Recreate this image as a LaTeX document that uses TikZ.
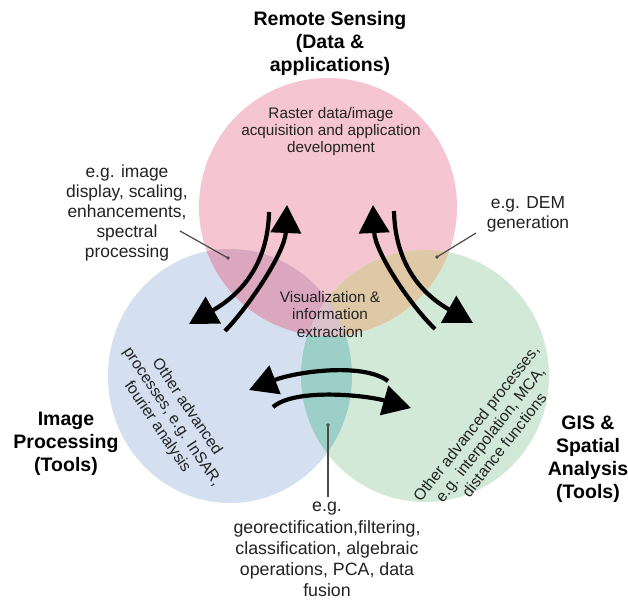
\documentclass[tikz,border=0pt]{standalone}
\usepackage{fontspec}
\setmainfont{Liberation Sans}
\usetikzlibrary{arrows.meta}

% fills of the three circles and their overlaps
\definecolor{rsPink}{HTML}{F5C6D1}
\definecolor{ipBlue}{HTML}{D4E0EF}
\definecolor{gisGreen}{HTML}{D2E9D7}
\definecolor{pinkBlue}{HTML}{DAA7BE}
\definecolor{pinkGreen}{HTML}{DEC8A5}
\definecolor{blueGreen}{HTML}{9BCFC8}
\definecolor{allThree}{HTML}{DBC1CA}
\definecolor{inkGray}{HTML}{222222}
\definecolor{leaderGray}{HTML}{4A4A4A}

\begin{document}
\begin{tikzpicture}[x=1pt,y=-1pt,
  bigarrow/.style={line width=4.2pt,-{Triangle[length=28pt,width=30pt]}},
  leader/.style={line width=1.2pt,draw=leaderGray},
  leaderdot/.style={circle,fill=leaderGray,inner sep=0pt,minimum size=3.6pt},
  heading/.style={font=\fontsize{19.5}{23}\selectfont\bfseries,align=center,text=black,inner sep=0pt},
  inner/.style={font=\fontsize{15.3}{17.3}\selectfont,align=center,text=inkGray,inner sep=0pt},
  example/.style={font=\fontsize{17.4}{19.8}\selectfont,align=center,text=inkGray,inner sep=0pt},
  slanted/.style={font=\fontsize{15.8}{17.8}\selectfont,align=center,text=inkGray,inner sep=0pt}]

\useasboundingbox (0,0) rectangle (628,601);
\fill[white] (0,0) rectangle (628,601);

% the three circles
\fill[rsPink] (328,207) circle[radius=129pt];
\fill[ipBlue] (230,376) ellipse[x radius=122pt,y radius=127pt];
\fill[gisGreen] (425,376) ellipse[x radius=124pt,y radius=126pt];

% image processing / GIS overlap
\begin{scope}
  \clip (230,376) ellipse[x radius=122pt,y radius=127pt];
  \fill[blueGreen] (425,376) ellipse[x radius=124pt,y radius=126pt];
\end{scope}

% overlaps with remote sensing, and the common centre
\begin{scope}
  \clip (328,207) circle[radius=129pt];
  \fill[pinkBlue] (230,376) ellipse[x radius=122pt,y radius=127pt];
  \fill[pinkGreen] (425,376) ellipse[x radius=124pt,y radius=126pt];
  \clip (230,376) ellipse[x radius=122pt,y radius=127pt];
  \fill[allThree] (425,376) ellipse[x radius=124pt,y radius=126pt];
\end{scope}

% headings
\node[heading] (rs) at (330,43.5) {Remote Sensing\\(Data \&\\applications)};
\node[heading] (ip) at (66,444) {Image\\Processing\\(Tools)};
\node[heading] (gis) at (588,459) {GIS \&\\Spatial\\Analysis\\(Tools)};

% texts inside the circles
\node[inner] (raster) at (331,131.5) {Raster data/image\\acquisition and application\\development};
\node[inner] (vis) at (330,314.5) {Visualization \&\\information\\extraction};
\node[slanted,rotate=-56] (ipmore) at (172,417) {Other advanced\\processes, e.g. InSAR,\\fourier analysis};
\node[slanted,rotate=52] (gismore) at (490,434) {Other advanced processes,\\e.g. interpolation, MCA,\\distance functions};

% examples outside
\node[example] (egimg) at (127,213) {e.g. image\\display, scaling,\\enhancements,\\spectral\\processing};
\node[example] (egdem) at (528,214) {e.g. DEM\\generation};
\node[example,font=\fontsize{17.8}{21.2}\selectfont] (egjoint) at (327,549.5) {e.g.\\georectification,filtering,\\classification, algebraic\\operations, PCA, data\\fusion};

% leader lines
\coordinate (l1from) at (180,231);
\node[leaderdot] (l1dot) at (228,258) {};
\draw[leader] (l1from) -- (l1dot.center);
\coordinate (l2from) at (476,233);
\node[leaderdot] (l2dot) at (437,257) {};
\draw[leader] (l2from) -- (l2dot.center);
\coordinate (l3from) at (328,497);
\node[leaderdot] (l3dot) at (328,425) {};
\draw[leader] (l3from) -- (l3dot.center);

% exchange arrows: remote sensing <-> image processing
\coordinate (a1s) at (269,212); \coordinate (a1t) at (189,324);
\draw[bigarrow] (a1s) .. controls (268,260) and (245,292) .. (a1t);
\coordinate (a2s) at (225,331); \coordinate (a2t) at (287,205);
\draw[bigarrow] (a2s) .. controls (250,305) and (285,252) .. (a2t);

% remote sensing <-> GIS
\coordinate (a3s) at (435,329); \coordinate (a3t) at (373,205);
\draw[bigarrow] (a3s) .. controls (410,305) and (375,252) .. (a3t);
\coordinate (a4s) at (394,211); \coordinate (a4t) at (473,323);
\draw[bigarrow] (a4s) .. controls (395,260) and (418,292) .. (a4t);

% image processing <-> GIS
\coordinate (a5s) at (388,381); \coordinate (a5t) at (249,390);
\draw[bigarrow] (a5s) .. controls (362,362) and (295,372) .. (a5t);
\coordinate (a6s) at (273,407); \coordinate (a6t) at (411,408);
\draw[bigarrow] (a6s) .. controls (295,388) and (365,395) .. (a6t);

\end{tikzpicture}
\end{document}
